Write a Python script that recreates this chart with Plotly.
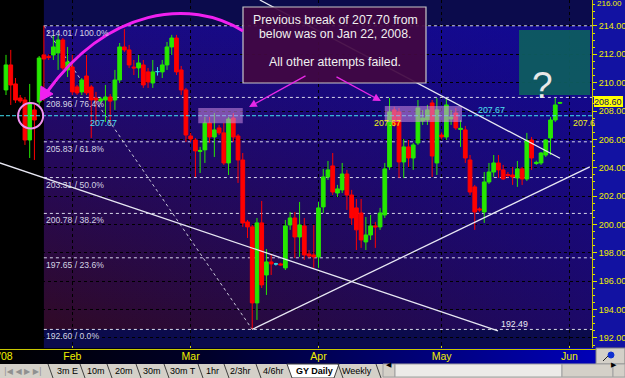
import base64
import plotly.graph_objects as go

# ---------------- data (GBP/JPY daily) ----------------
bars = list(range(118))
opens = [209.49, 211.25, 209.91, 208.92, 208.78, 205.96, 208.08, 208.64, 211.96, 211.84,
         211.96, 212.10, 213.01, 210.90, 211.11, 209.70, 209.35, 210.47, 209.70, 208.92,
         208.71, 208.78, 208.99, 208.78, 210.19, 212.52, 212.31, 211.10, 211.04, 211.25,
         210.76, 209.98, 210.78, 210.76, 211.25, 212.52, 213.15, 210.90, 209.49, 206.24,
         205.96, 205.15, 205.26, 207.16, 206.17, 206.81, 206.46, 204.34, 207.51, 206.24,
         204.55, 200.18, 199.83, 194.47, 200.11, 196.44, 197.36, 197.22, 197.22, 196.94,
         199.97, 200.46, 199.12, 199.90, 197.92, 197.85, 197.71, 201.24, 203.35, 204.13,
         202.22, 202.44, 203.56, 202.08, 201.17, 200.81, 198.77, 199.26, 199.90, 199.83,
         200.67, 204.06, 208.08, 207.94, 204.41, 205.47, 204.69, 205.75, 207.30, 207.37,
         208.57, 204.34, 206.31, 206.17, 207.44, 207.86, 206.70, 206.67, 204.55, 202.65,
         201.10, 200.88, 203.00, 203.70, 204.34, 203.85, 203.52, 203.49, 203.28, 203.92,
         203.21, 205.96, 204.30, 204.34, 204.90, 206.10, 207.37, 208.55]
highs = [211.96, 212.31, 210.33, 209.13, 208.99, 209.91, 208.43, 211.88, 214.01, 212.00,
         213.37, 213.37, 213.15, 212.52, 211.96, 209.84, 210.33, 211.96, 209.84, 209.35,
         208.99, 209.84, 209.20, 210.90, 212.80, 213.79, 212.66, 211.60, 211.96, 211.60,
         211.04, 211.60, 211.10, 211.60, 212.87, 213.37, 213.37, 211.18, 209.63, 206.46,
         206.10, 205.47, 207.58, 207.58, 207.86, 207.02, 207.16, 207.58, 207.86, 206.38,
         205.04, 200.32, 199.97, 200.46, 201.66, 198.27, 197.85, 197.30, 197.30, 200.32,
         200.88, 200.88, 201.59, 200.46, 198.20, 199.97, 201.59, 203.92, 204.48, 205.04,
         202.79, 204.34, 203.85, 202.44, 201.80, 201.80, 200.53, 200.67, 200.18, 201.17,
         204.34, 208.92, 208.30, 208.22, 206.03, 205.96, 205.75, 208.78, 208.08, 208.43,
         208.78, 208.92, 206.50, 208.92, 208.08, 208.22, 207.37, 206.95, 204.90, 202.79,
         201.20, 203.70, 204.34, 204.90, 204.90, 204.20, 203.70, 204.06, 204.48, 204.06,
         206.46, 206.17, 204.50, 205.11, 206.03, 207.58, 208.92, 208.65]
lows = [209.13, 208.43, 208.57, 208.57, 205.61, 204.69, 204.55, 208.43, 208.71, 211.60,
        211.60, 210.90, 210.90, 210.40, 209.13, 209.13, 209.13, 209.13, 206.10, 207.02,
        208.50, 207.23, 206.95, 208.08, 209.98, 212.17, 211.04, 210.54, 210.33, 209.63,
        209.63, 209.63, 210.50, 210.33, 210.90, 211.96, 210.54, 209.13, 205.82, 205.82,
        203.35, 203.63, 204.34, 205.75, 204.76, 206.31, 204.20, 203.49, 205.82, 202.93,
        199.83, 199.05, 192.60, 193.27, 195.52, 195.03, 196.44, 197.10, 197.10, 196.79,
        199.62, 197.64, 197.71, 197.50, 197.64, 196.94, 196.94, 200.81, 203.14, 202.08,
        201.94, 202.22, 201.03, 199.97, 198.20, 198.35, 198.20, 198.91, 198.35, 199.62,
        200.46, 203.85, 206.90, 203.28, 203.28, 204.06, 203.85, 205.61, 207.02, 207.02,
        203.35, 203.49, 206.00, 205.96, 207.02, 206.67, 205.47, 204.34, 202.08, 199.62,
        200.90, 200.11, 202.86, 203.35, 203.28, 203.14, 203.30, 202.79, 202.65, 202.79,
        203.07, 203.85, 204.20, 204.20, 204.76, 204.90, 207.23, 208.50]
closes = [211.25, 209.84, 208.78, 208.71, 205.96, 208.57, 207.37, 211.74, 211.67, 211.78,
          212.52, 213.01, 211.04, 211.46, 209.35, 209.28, 210.19, 209.28, 208.78, 208.78,
          208.85, 208.99, 208.70, 210.19, 212.52, 212.31, 211.25, 211.04, 211.39, 209.84,
          210.05, 210.76, 210.78, 211.25, 212.52, 213.15, 210.76, 209.49, 206.31, 206.03,
          205.19, 205.22, 207.16, 206.17, 206.67, 206.46, 204.34, 207.44, 206.17, 204.55,
          200.11, 199.83, 194.47, 200.11, 195.74, 197.36, 197.22, 197.22, 197.15, 199.90,
          200.46, 199.12, 199.97, 197.85, 197.78, 197.71, 201.17, 203.35, 203.85, 202.29,
          202.51, 203.56, 202.08, 200.46, 199.62, 198.91, 199.26, 199.90, 199.83, 200.81,
          203.92, 207.94, 207.02, 204.41, 205.47, 204.69, 205.61, 208.22, 207.51, 208.08,
          204.83, 208.08, 206.17, 208.43, 207.58, 206.81, 206.78, 204.69, 202.29, 200.88,
          201.03, 203.00, 203.70, 204.34, 203.85, 203.21, 203.46, 203.35, 203.92, 203.21,
          205.92, 204.69, 204.38, 205.04, 205.96, 207.37, 208.43, 208.60]

month_labels = ["Feb", "Mar", "Apr", "May", "Jun"]
month_bars = [14, 39, 66, 92, 119]

fib_prices = [214.01, 208.96, 205.83, 203.31, 200.78, 197.65, 192.60]
fib_pcts = ["100.0%", "76.4%", "61.8%", "50.0%", "38.2%", "23.6%", "0.0%"]
fib_hi_bar, fib_lo_bar = 8, 52
break_level = 207.67
break_bar = 5.2
trend_a = ([-1.3, 103.9], [204.34, 192.49])
trend_b = ([52.0, 123.3], [192.60, 204.06])
trend_c = ([53.6, 117.0], [215.83, 204.67])
test_zones = [(40.6, 50.0, 207.13, 208.22), (80.0, 96.3, 207.23, 208.36)]
last_price = 208.60

X_RANGE = [-1.27, 123.76]
Y_RANGE = [191.29, 215.83]

# ---------------- layout helpers (pixel -> paper for decorations) ----------------
PW, PH = 592, 348


def P(X, Y):
    return X / PW, (PH - Y) / PH


def svg_uri(s):
    return "data:image/svg+xml;base64," + base64.b64encode(s.encode()).decode()


FONT = "Liberation Sans, Arial, sans-serif"

fig = go.Figure()

up = [i for i in bars if closes[i] > opens[i]]
dn = [i for i in bars if closes[i] < opens[i]]
eq = [i for i in bars if closes[i] == opens[i]]


def sub(lst, idx):
    return [lst[i] for i in idx]


for idx, col in ((up, "#26e800"), (dn, "#ff0000"), (eq, "#30d8e8")):
    fig.add_trace(go.Candlestick(
        x=idx, open=sub(opens, idx), high=sub(highs, idx), low=sub(lows, idx), close=sub(closes, idx),
        increasing=dict(line=dict(color=col, width=1), fillcolor=col),
        decreasing=dict(line=dict(color=col, width=1), fillcolor=col),
        whiskerwidth=0, showlegend=False, hoverinfo="skip"))

shapes = []
annotations = []
images = []

# fib zone background gradient
fib_svg = ("<svg xmlns='http://www.w3.org/2000/svg' width='100' height='100' viewBox='0 0 100 100' "
           "preserveAspectRatio='none'><defs>"
           "<linearGradient id='v' x1='0' y1='0' x2='0' y2='1'>"
           "<stop offset='0' stop-color='#1a0a80'/><stop offset='0.45' stop-color='#25095a'/>"
           "<stop offset='1' stop-color='#300a26'/></linearGradient>"
           "<linearGradient id='h' x1='0' y1='0' x2='1' y2='0'>"
           "<stop offset='0' stop-color='#0808a0' stop-opacity='0'/>"
           "<stop offset='1' stop-color='#0808a8' stop-opacity='0.5'/></linearGradient></defs>"
           "<rect width='100' height='100' fill='url(#v)'/><rect width='100' height='100' fill='url(#h)'/></svg>")
images.append(dict(source=svg_uri(fib_svg), xref="x", yref="y", x=fib_hi_bar, y=fib_prices[0],
                   sizex=X_RANGE[1] - fib_hi_bar, sizey=fib_prices[0] - fib_prices[-1],
                   xanchor="left", yanchor="top", sizing="stretch", layer="below"))

# black area left of the fib anchor
shapes.append(dict(type="rect", xref="x", yref="paper", x0=X_RANGE[0], x1=fib_hi_bar, y0=0, y1=1,
                   fillcolor="#000000", line=dict(width=0), layer="below"))

# fib levels
for p, pct in zip(fib_prices, fib_pcts):
    shapes.append(dict(type="line", xref="x", yref="y", x0=fib_hi_bar, x1=X_RANGE[1], y0=p, y1=p,
                       line=dict(color="#d8d8ea", width=1, dash="dot"), layer="between"))
    annotations.append(dict(x=fib_hi_bar, y=p, xref="x", yref="y", text=f"{p:.2f} / {pct}",
                            showarrow=False, xanchor="left", yanchor="middle", xshift=0, yshift=-7,
                            font=dict(family=FONT, size=8.6, color="#d4d4e4")))
# fib diagonal
shapes.append(dict(type="line", xref="x", yref="y", x0=fib_hi_bar, y0=fib_prices[0], x1=fib_lo_bar,
                   y1=fib_prices[-1], line=dict(color="#c8c8d8", width=1, dash="dot"), layer="between"))

# 207.67 break level
shapes.append(dict(type="line", xref="x", yref="y", x0=X_RANGE[0], x1=X_RANGE[1], y0=break_level,
                   y1=break_level, line=dict(color="#40e0f0", width=1, dash="4px,2px"), layer="above"))

# test zones
for x0, x1, y0, y1 in test_zones:
    shapes.append(dict(type="rect", xref="x", yref="y", x0=x0, x1=x1, y0=y0, y1=y1,
                       fillcolor="rgba(205,140,225,0.55)", line=dict(width=0), layer="above"))

# trend lines
for tx, ty in (trend_a, trend_b, trend_c):
    shapes.append(dict(type="line", xref="x", yref="y", x0=tx[0], y0=ty[0], x1=tx[1], y1=ty[1],
                       line=dict(color="#e8e8f4", width=1.3), layer="above"))

# circle at the Jan 22 break
shapes.append(dict(type="circle", xref="x", yref="y", x0=break_bar - 2.65, x1=break_bar + 2.65,
                   y0=break_level - 0.9, y1=break_level + 0.9,
                   line=dict(color="#f090f0", width=2), layer="above"))

# text box
bx0, by0 = P(243, 7)
bx1, by1 = P(426, 83)
shapes.append(dict(type="rect", xref="paper", yref="paper", x0=bx0, x1=bx1, y0=by1, y1=by0,
                   fillcolor="rgba(66,8,66,0.93)", line=dict(color="#c8c8c8", width=1.2), layer="above"))
for txt, Y in (("Previous break of 207.70 from", 20), ("below was on Jan 22, 2008.", 34),
               ("All other attempts failed.", 62)):
    ax_, ay_ = P(335, Y)
    annotations.append(dict(x=ax_, y=ay_, xref="paper", yref="paper", text=txt, showarrow=False,
                            xanchor="center", yanchor="middle",
                            font=dict(family=FONT, size=12.3, color="#f0f0f0")))

# "?" box
qx0, qy0 = P(519, 30)
qx1, qy1 = P(590, 95)
shapes.append(dict(type="rect", xref="paper", yref="paper", x0=qx0, x1=qx1, y0=qy1, y1=qy0,
                   fillcolor="rgba(14,92,96,0.95)", line=dict(width=0), layer="above"))
qx, qy = P(554.5, 63)
annotations.append(dict(x=qx, y=qy, xref="paper", yref="paper", text="?", showarrow=False,
                        font=dict(family=FONT, size=37, color="#e8e8e8")))

# magenta arc with arrow head
p0, p1, p2, p3 = P(243, 31), P(190, -2), P(108, 8), P(47, 92)
shapes.append(dict(type="path", xref="paper", yref="paper",
                   path=f"M {p0[0]},{p0[1]} C {p1[0]},{p1[1]} {p2[0]},{p2[1]} {p3[0]},{p3[1]}",
                   line=dict(color="#f020f0", width=3), layer="above"))
t1, t2, t3 = P(40, 101), P(53, 94), P(41, 86)
shapes.append(dict(type="path", xref="paper", yref="paper",
                   path=f"M {t1[0]},{t1[1]} L {t2[0]},{t2[1]} L {t3[0]},{t3[1]} Z",
                   fillcolor="#f020f0", line=dict(color="#f020f0", width=1), layer="above"))

# two magenta arrows from the box
for (hx, hy), (tx, ty) in (((249, 107), (307, 75)), ((381, 101), (335, 76))):
    ax_, ay_ = P(hx, hy)
    annotations.append(dict(x=ax_, y=ay_, xref="paper", yref="paper", text="", showarrow=True,
                            ax=tx - hx, ay=ty - hy, axref="pixel", ayref="pixel",
                            arrowcolor="#e828e8", arrowwidth=1.3, arrowhead=2, arrowsize=1.2))

# level labels (the last one is cut by the price axis in the original)
level_txt = f"{break_level:.2f}"
for bx, col, ys, txt in ((17.3, "#50e0f0", -7, level_txt), (77.3, "#f0f020", -7, level_txt),
                         (99.3, "#50e0f0", 6, level_txt), (119.3, "#f0f020", -7, level_txt[:-1])):
    annotations.append(dict(x=bx, y=break_level, xref="x", yref="y", text=txt,
                            showarrow=False, xanchor="left", yanchor="middle", yshift=ys,
                            font=dict(family=FONT, size=8.8, color=col)))
annotations.append(dict(x=trend_a[0][1], y=trend_a[1][1], xref="x", yref="y", text=f"{trend_a[1][1]:.2f}",
                        showarrow=False, xanchor="left", yanchor="middle", xshift=1, yshift=7,
                        font=dict(family=FONT, size=8.8, color="#ececf4")))

# ---------------- frame decorations ----------------
# y-axis panel
shapes.append(dict(type="rect", xref="paper", yref="paper", x0=1.0, x1=625 / PW, y0=0, y1=1,
                   fillcolor="#1212a2", line=dict(width=0), layer="below"))
# x-axis band gradient
band_svg = ("<svg xmlns='http://www.w3.org/2000/svg' width='100' height='10' viewBox='0 0 100 10' "
            "preserveAspectRatio='none'><defs><linearGradient id='g' x1='0' y1='0' x2='1' y2='0'>"
            "<stop offset='0' stop-color='#000000'/><stop offset='0.35' stop-color='#00002a'/>"
            "<stop offset='1' stop-color='#0000b8'/></linearGradient></defs>"
            "<rect width='100' height='10' fill='url(#g)'/></svg>")
images.append(dict(source=svg_uri(band_svg), xref="paper", yref="paper", x=0, y=P(0, 348)[1],
                   sizex=596 / PW, sizey=16 / PH, xanchor="left", yanchor="top",
                   sizing="stretch", layer="below"))
lx0, ly = P(0, 349.5)
shapes.append(dict(type="line", xref="paper", yref="paper", x0=0, x1=596 / PW, y0=ly, y1=ly,
                   line=dict(color="#c8c800", width=1.2), layer="above"))
annotations.append(dict(x=P(-3, 0)[0], y=P(0, 356)[1], xref="paper", yref="paper", text="'08",
                        showarrow=False, xanchor="left", yanchor="middle",
                        font=dict(family=FONT, size=10.5, color="#f0f000")))
# corner box
cx0, cy0 = P(596, 348)
cx1, cy1 = P(625, 364)
shapes.append(dict(type="rect", xref="paper", yref="paper", x0=cx0, x1=cx1, y0=cy1, y1=cy0,
                   fillcolor="#d4d0c8", line=dict(color="#808080", width=1), layer="above"))
a1, a2 = P(603, 361), P(612, 352)
shapes.append(dict(type="line", xref="paper", yref="paper", x0=a1[0], y0=a1[1], x1=a2[0], y1=a2[1],
                   line=dict(color="#202020", width=1), layer="above"))
k0, k1 = P(608, 352), P(614, 358)
shapes.append(dict(type="circle", xref="paper", yref="paper", x0=k0[0], y0=k1[1], x1=k1[0], y1=k0[1],
                   fillcolor="#1030d0", line=dict(color="#1030d0", width=1), layer="above"))
# tab bar
tb0 = P(0, 364)[1]
tb1 = P(0, 378)[1]
shapes.append(dict(type="rect", xref="paper", yref="paper", x0=0, x1=625 / PW, y0=tb1, y1=tb0,
                   fillcolor="#d4d0c8", line=dict(width=0), layer="above"))
shapes.append(dict(type="path", xref="paper", yref="paper",
                   path=f"M {P(287,364)[0]},{tb0} L {P(292,378)[0]},{tb1} L {P(334,378)[0]},{tb1} "
                        f"L {P(339,364)[0]},{tb0} Z",
                   fillcolor="#ffffff", line=dict(color="#404040", width=1), layer="above"))
for bxp in (48, 80, 107, 136, 164, 198, 224, 256, 338, 376):
    q0, q1 = P(bxp, 364), P(bxp + 5, 378)
    shapes.append(dict(type="line", xref="paper", yref="paper", x0=q0[0], y0=q0[1], x1=q1[0], y1=q1[1],
                       line=dict(color="#404040", width=1), layer="above"))
tabs = [("3m E", 67.5), ("10m", 96), ("20m", 123.5), ("30m", 151.5), ("30m T", 183), ("1hr", 212),
        ("2/3hr", 240.5), ("4/6hr", 273), ("GY Daily", 314), ("Weekly", 357)]
for name, cxp in tabs:
    annotations.append(dict(x=P(cxp, 0)[0], y=P(0, 371)[1], xref="paper", yref="paper",
                            text=f"<b>{name}</b>" if name == "GY Daily" else name, showarrow=False,
                            xanchor="center", yanchor="middle",
                            font=dict(family=FONT, size=9, color="#000000")))
annotations.append(dict(x=P(2, 0)[0], y=P(0, 371)[1], xref="paper", yref="paper",
                        text="|◀ ◀ ▶ ▶|", showarrow=False, xanchor="left", yanchor="middle",
                        font=dict(family="DejaVu Sans", size=8, color="#909090")))
# scroll bar
for sx0, sx1, fc in ((383, 395, "#d4d0c8"), (395, 562, "#ecebe8"), (562, 613, "#d4d0c8"), (613, 625, "#d4d0c8")):
    s0, s1 = P(sx0, 364), P(sx1, 377)
    shapes.append(dict(type="rect", xref="paper", yref="paper", x0=s0[0], x1=s1[0], y0=s1[1], y1=s0[1],
                       fillcolor=fc, line=dict(color="#a0a0a0", width=1), layer="above"))
for t, sxp in (("◀", 389), ("▶", 619)):
    annotations.append(dict(x=P(sxp, 0)[0], y=P(0, 371)[1], xref="paper", yref="paper", text=t,
                            showarrow=False, font=dict(family="DejaVu Sans", size=7, color="#000000")))
# last price marker
mx0, my0 = P(594, 96)
mx1, my1 = P(623, 107)
shapes.append(dict(type="rect", xref="paper", yref="paper", x0=mx0, x1=mx1, y0=my1, y1=my0,
                   fillcolor="#ffff00", line=dict(width=0), layer="above"))
annotations.append(dict(x=(mx0 + mx1) / 2, y=(my0 + my1) / 2, xref="paper", yref="paper",
                        text=f"{last_price:.2f}", showarrow=False, xanchor="center", yanchor="middle",
                        font=dict(family=FONT, size=9, color="#101060")))
annotations.append(dict(x=P(609, 0)[0], y=P(0, 4)[1], xref="paper", yref="paper", text="216.00",
                        showarrow=False, xanchor="center", yanchor="middle",
                        font=dict(family=FONT, size=8, color="#f0f000")))

fig.update_layout(
    width=625, height=378, margin=dict(l=0, r=33, t=0, b=30),
    paper_bgcolor="#d4d0c8", plot_bgcolor="#0b0b4c",
    boxgap=0.12, boxgroupgap=0.1,
    showlegend=False, shapes=shapes, annotations=annotations, images=images,
    xaxis=dict(range=X_RANGE, rangeslider=dict(visible=False), tickvals=month_bars, ticktext=month_labels,
               showgrid=True, gridcolor="#000000", griddash="3px,3px", gridwidth=1, zeroline=False,
               ticks="inside", ticklen=2, tickcolor="#d0d000", showline=False,
               tickfont=dict(family=FONT, size=10.5, color="#f0f000")),
    yaxis=dict(range=Y_RANGE, side="right", dtick=2, tick0=0, tickformat=".2f",
               showgrid=True, gridcolor="#000000", griddash="3px,3px", gridwidth=1, zeroline=False,
               ticks="outside", ticklen=4, tickcolor="#e0e000", showline=True, linecolor="#c8c800",
               minor=dict(dtick=0.5, ticks="outside", ticklen=2, tickcolor="#e0e000", showgrid=False),
               tickfont=dict(family=FONT, size=9, color="#f0f000")),
)

fig.write_html("out.html", config={"displayModeBar": False})
